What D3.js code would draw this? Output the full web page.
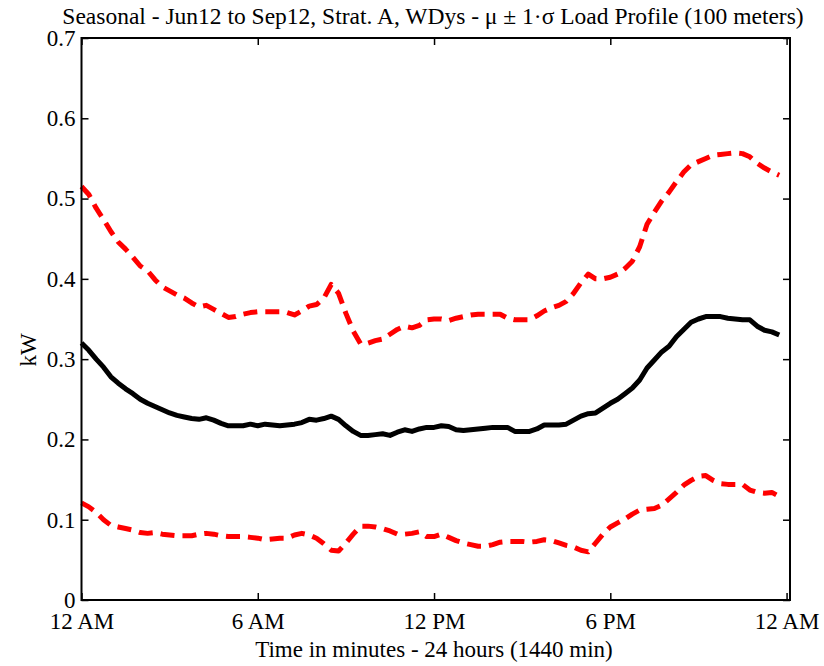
<!DOCTYPE html>
<html>
<head>
<meta charset="utf-8">
<script src="https://cdn.jsdelivr.net/npm/d3@7/dist/d3.min.js"></script>
<style>
  html, body { margin: 0; padding: 0; background: #fff; }
  svg { display: block; }
  text { font-family: "Liberation Serif", "Times New Roman", serif; fill: #000; }
</style>
</head>
<body>
<svg id="chart" width="824" height="666"></svg>
<script>
// ---- data (15-minute resolution, 96 samples) ----
const minutes = d3.range(0, 1440, 15);

const meanLoad = [
  0.320,0.311,0.300,0.290,0.278,0.270,0.263,0.257,0.250,0.245,0.241,0.237,
  0.233,0.230,0.228,0.226,0.225,0.227,0.224,0.220,0.217,0.217,0.217,0.219,
  0.217,0.219,0.218,0.217,0.218,0.219,0.221,0.225,0.224,0.226,0.229,0.225,
  0.217,0.210,0.205,0.205,0.206,0.207,0.205,0.209,0.212,0.210,0.213,0.215,
  0.215,0.217,0.216,0.212,0.211,0.212,0.213,0.214,0.215,0.215,0.215,0.210,
  0.210,0.210,0.213,0.218,0.218,0.218,0.219,0.224,0.229,0.232,0.233,0.239,
  0.245,0.250,0.257,0.264,0.274,0.289,0.299,0.309,0.316,0.328,0.337,0.346,
  0.350,0.353,0.353,0.353,0.351,0.350,0.349,0.349,0.341,0.336,0.334,0.330
];

const upperLoad = [
  0.515,0.505,0.488,0.474,0.459,0.446,0.437,0.427,0.416,0.410,0.399,0.390,
  0.385,0.380,0.376,0.370,0.365,0.367,0.362,0.357,0.352,0.353,0.356,0.358,
  0.359,0.359,0.359,0.359,0.358,0.355,0.360,0.366,0.368,0.376,0.393,0.382,
  0.357,0.335,0.319,0.320,0.323,0.325,0.331,0.337,0.341,0.339,0.342,0.349,
  0.350,0.350,0.348,0.351,0.353,0.355,0.356,0.356,0.356,0.356,0.351,0.349,
  0.349,0.349,0.354,0.360,0.364,0.367,0.372,0.382,0.395,0.406,0.400,0.400,
  0.402,0.406,0.413,0.422,0.440,0.468,0.483,0.497,0.508,0.521,0.533,0.542,
  0.546,0.550,0.554,0.555,0.556,0.557,0.556,0.552,0.544,0.538,0.533,0.529
];

const lowerLoad = [
  0.121,0.116,0.109,0.100,0.093,0.091,0.089,0.087,0.084,0.083,0.084,0.082,
  0.081,0.080,0.080,0.080,0.082,0.083,0.082,0.080,0.079,0.079,0.079,0.078,
  0.077,0.075,0.076,0.077,0.077,0.081,0.083,0.081,0.077,0.070,0.062,0.061,
  0.071,0.082,0.092,0.092,0.091,0.089,0.086,0.082,0.082,0.083,0.085,0.079,
  0.079,0.082,0.078,0.074,0.071,0.069,0.067,0.067,0.069,0.072,0.073,0.073,
  0.073,0.072,0.073,0.075,0.074,0.071,0.068,0.066,0.062,0.060,0.071,0.082,
  0.091,0.096,0.101,0.107,0.112,0.113,0.114,0.118,0.126,0.134,0.143,0.149,
  0.154,0.155,0.149,0.145,0.144,0.144,0.144,0.137,0.134,0.133,0.134,0.129
];

const xTickValues = [0, 360, 720, 1080, 1440];
const xTickLabels = ["12 AM", "6 AM", "12 PM", "6 PM", "12 AM"];
const yTickValues = [0, 0.1, 0.2, 0.3, 0.4, 0.5, 0.6, 0.7];
const yTickLabels = ["0", "0.1", "0.2", "0.3", "0.4", "0.5", "0.6", "0.7"];

const titleText = "Seasonal - Jun12 to Sep12, Strat. A, WDys - \u03bc \u00b1 1\u00b7\u03c3 Load Profile (100 meters)";
const xLabelText = "Time in minutes - 24 hours (1440 min)";
const yLabelText = "kW";

// ---- layout ----
const svg = d3.select("#chart");
const mLeft = 81.5, mRight = 790, mTop = 38, mBottom = 600;

const x = d3.scaleLinear().domain([0, 1447]).range([mLeft, mRight]);
const y = d3.scaleLinear().domain([0, 0.7]).range([mBottom, mTop]);

// lines
const line = d3.line().x((d, i) => x(minutes[i])).y(d => y(d));

const plot = svg.append("g");
plot.append("path").datum(upperLoad).attr("d", line)
  .attr("fill", "none").attr("stroke", "#ff0000").attr("stroke-width", 5)
  .attr("stroke-dasharray", "14,8").attr("stroke-linejoin", "round");
plot.append("path").datum(lowerLoad).attr("d", line)
  .attr("fill", "none").attr("stroke", "#ff0000").attr("stroke-width", 5)
  .attr("stroke-dasharray", "14,8").attr("stroke-linejoin", "round");
plot.append("path").datum(meanLoad).attr("d", line)
  .attr("fill", "none").attr("stroke", "#000").attr("stroke-width", 5)
  .attr("stroke-linejoin", "round");

// axes
const tickLen = 7;
const axisFont = "23px";

const xAxisB = d3.axisBottom(x).tickValues(xTickValues)
  .tickFormat((d, i) => xTickLabels[i]).tickSizeInner(-tickLen).tickSizeOuter(0).tickPadding(13);
const gxb = svg.append("g").attr("transform", `translate(0,${mBottom})`).call(xAxisB);
gxb.selectAll("text").style("font-size", axisFont).style("font-family", "Liberation Serif");

const xAxisT = d3.axisTop(x).tickValues(xTickValues).tickFormat("")
  .tickSizeInner(-tickLen).tickSizeOuter(0);
svg.append("g").attr("transform", `translate(0,${mTop})`).call(xAxisT);

const yAxisL = d3.axisLeft(y).tickValues(yTickValues)
  .tickFormat((d, i) => yTickLabels[i]).tickSizeInner(-tickLen).tickSizeOuter(0).tickPadding(6);
const gyl = svg.append("g").attr("transform", `translate(${mLeft},0)`).call(yAxisL);
gyl.selectAll("text").style("font-size", axisFont).style("font-family", "Liberation Serif");

const yAxisR = d3.axisRight(y).tickValues(yTickValues).tickFormat("")
  .tickSizeInner(-tickLen).tickSizeOuter(0);
svg.append("g").attr("transform", `translate(${mRight},0)`).call(yAxisR);

svg.selectAll(".domain").remove();
svg.selectAll(".tick line").attr("stroke", "#000").attr("stroke-width", 1.5);

// box
svg.append("rect").attr("x", mLeft).attr("y", mTop)
  .attr("width", mRight - mLeft).attr("height", mBottom - mTop)
  .attr("fill", "none").attr("stroke", "#000").attr("stroke-width", 2);

// labels
svg.append("text").attr("x", 433).attr("y", 24).attr("text-anchor", "middle")
  .style("font-size", "23.5px").text(titleText);
svg.append("text").attr("x", 434).attr("y", 657).attr("text-anchor", "middle")
  .style("font-size", "23px").text(xLabelText);
svg.append("text").attr("transform", "translate(36,350) rotate(-90)")
  .attr("text-anchor", "middle").style("font-size", "23px").text(yLabelText);
</script>
</body>
</html>
